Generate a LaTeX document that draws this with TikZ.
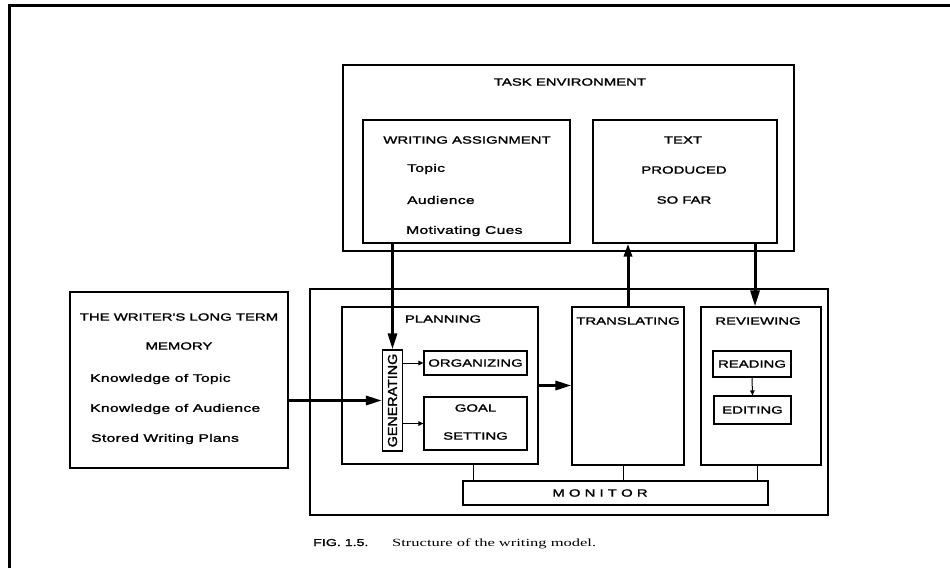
\documentclass[tikz,border=0pt]{standalone}
\usepackage{fontspec}
\setmainfont{Liberation Sans}[FakeStretch=1.5]
\newfontfamily\lab{Liberation Sans}[FakeStretch=1.42, FakeBold=1.6]
\newfontfamily\labwide{Liberation Sans}[FakeStretch=1.42, FakeBold=1.6, LetterSpace=3]
\newfontfamily\genfont{Liberation Sans}[FakeStretch=1.1, FakeBold=1.6]
\newfontfamily\capserif{Liberation Serif}[FakeStretch=1.5]
\usetikzlibrary{arrows.meta}

\begin{document}
\begin{tikzpicture}[x=1pt,y=-1pt,
  box/.style={draw, line width=1.1pt, inner sep=0pt, fill=none},
  lbl/.style={inner sep=0pt, font=\lab\fontsize{10.5}{12}\selectfont},
  item/.style={inner sep=0pt, anchor=west, font=\labwide\fontsize{11}{12}\selectfont},
  heavy/.style={line width=3pt, -{Triangle[length=16pt,width=9pt]}},
  light/.style={line width=1pt, -{Triangle[length=5pt,width=4.5pt]}},
  link/.style={line width=1pt}]
\useasboundingbox (0,0) rectangle (950,568);

% page frame
\draw[line width=2.4pt] (9.5,568) -- (9.5,5.3) -- (950,5.3);

% task environment
\node[box, minimum width=451pt, minimum height=186pt] (task) at (568.5,158) {};
\node[lbl] (taskT) at (570,82) {TASK ENVIRONMENT};
\node[box, minimum width=207pt, minimum height=123pt] (assign) at (466.5,181.5) {};
\node[lbl] (assignT) at (467,140) {WRITING ASSIGNMENT};
\node[item] (topic) at (407,169) {Topic};
\node[item] (aud) at (407,200) {Audience};
\node[item] (cues) at (406,231) {Motivating Cues};
\node[box, minimum width=184pt, minimum height=123pt] (textprod) at (685,181.5) {};
\node[lbl] (tp1) at (683,140) {TEXT};
\node[lbl] (tp2) at (684,170) {PRODUCED};
\node[lbl] (tp3) at (684,200) {SO FAR};

% long term memory
\node[box, minimum width=218pt, minimum height=176pt] (ltm) at (179,380) {};
\node[lbl] (ltm1) at (179,317) {THE WRITER'S LONG TERM};
\node[lbl] (ltm2) at (179,346) {MEMORY};
\node[item] (ltm3) at (90,379) {Knowledge of Topic};
\node[item] (ltm4) at (90,409) {Knowledge of Audience};
\node[item] (ltm5) at (91,439) {Stored Writing Plans};

% writing processes
\node[box, minimum width=518pt, minimum height=226pt] (proc) at (569,402) {};
\node[box, minimum width=196pt, minimum height=157pt] (plan) at (440,385.5) {};
\node[lbl] (planT) at (443,319) {PLANNING};
\node[box, minimum width=20pt, minimum height=101pt] (gen) at (392.5,400.5) {};
\node[inner sep=0pt, rotate=90, font=\genfont\fontsize{13}{14}\selectfont] (genT) at (gen.center) {GENERATING};
\node[box, minimum width=103pt, minimum height=24pt] (org) at (475.5,363) {};
\node[lbl] (orgT) at (org.center) {ORGANIZING};
\node[box, minimum width=103pt, minimum height=53pt] (goal) at (475.5,423.5) {};
\node[lbl] (goal1) at (475.5,408) {GOAL};
\node[lbl] (goal2) at (475.5,436) {SETTING};
\node[box, minimum width=112pt, minimum height=158pt] (trans) at (628,386) {};
\node[lbl] (transT) at (628,321) {TRANSLATING};
\node[box, minimum width=120pt, minimum height=158pt] (rev) at (761,386) {};
\node[lbl] (revT) at (758,321) {REVIEWING};
\node[box, minimum width=78pt, minimum height=26pt] (read) at (752,364) {};
\node[lbl] (readT) at (read.center) {READING};
\node[box, minimum width=77pt, minimum height=28pt] (edit) at (752.5,410) {};
\node[lbl] (editT) at (edit.center) {EDITING};
\node[box, minimum width=305pt, minimum height=24pt] (mon) at (615.5,493) {};
\node[lbl] (monT) at (600,493) {M O N I T O R};

% monitor links
\coordinate (pm) at ([xshift=33pt]plan.south);
\coordinate (tm) at ([xshift=-5pt]trans.south);
\coordinate (rm) at ([xshift=-4pt]rev.south);
\draw[link] (pm) -- (pm |- mon.north);
\draw[link] (tm) -- (tm |- mon.north);
\draw[link] (rm) -- (rm |- mon.north);

% information flow
\draw[heavy] (gen.north |- assign.south) -- (gen.north);
\draw[heavy] (ltm.east |- gen.west) -- (gen.west);
\draw[heavy] (plan.east) -- (plan.east -| trans.west);
\draw[heavy, -{Triangle[length=13pt,width=8pt]}] (trans.north) -- (trans.north |- textprod.south);
\coordinate (rvin) at ([xshift=-6pt]rev.north);
\draw[heavy] (rvin |- textprod.south) -- (rvin);
\draw[light] (gen.east |- org.west) -- (org.west);
\draw[light] (gen.east |- goal.west) -- (goal.west);
\draw[light] (read.south) -- (edit.north);

% caption
\node[anchor=base west, inner sep=0pt, font=\lab\fontsize{10}{12}\selectfont] (capA) at (313,546) {FIG. 1.5.};
\node[anchor=base west, inner sep=0pt, font=\capserif\fontsize{11}{12}\selectfont] (capB) at (392,546) {Structure of the writing model.};
\end{tikzpicture}
\end{document}
